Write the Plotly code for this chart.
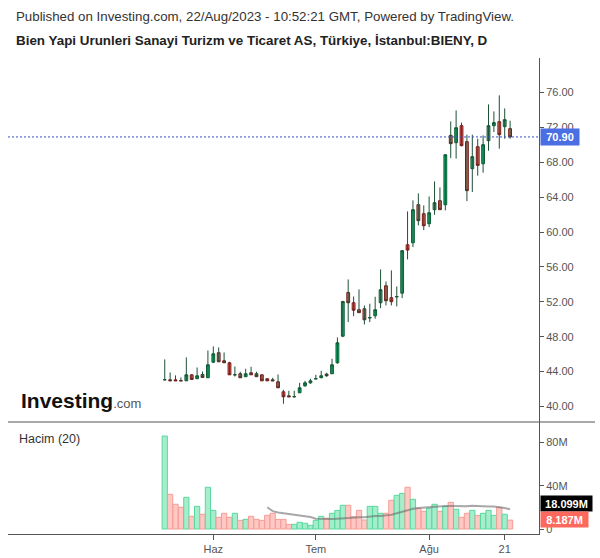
import plotly.graph_objects as go
import pandas as pd

# ---------------- data ----------------
dates = ["2023-05-18", "2023-05-22", "2023-05-23", "2023-05-24", "2023-05-25", "2023-05-26",
         "2023-05-29", "2023-05-30", "2023-05-31",
         "2023-06-01", "2023-06-02", "2023-06-05", "2023-06-06", "2023-06-07", "2023-06-08",
         "2023-06-09", "2023-06-12", "2023-06-13", "2023-06-14", "2023-06-15", "2023-06-16",
         "2023-06-19", "2023-06-20", "2023-06-21", "2023-06-22", "2023-06-23", "2023-06-26",
         "2023-06-27",
         "2023-07-03", "2023-07-04", "2023-07-05", "2023-07-06", "2023-07-07", "2023-07-10",
         "2023-07-11", "2023-07-12", "2023-07-13", "2023-07-14", "2023-07-17", "2023-07-18",
         "2023-07-19", "2023-07-20", "2023-07-21", "2023-07-24", "2023-07-25", "2023-07-26",
         "2023-07-27", "2023-07-28", "2023-07-31",
         "2023-08-01", "2023-08-02", "2023-08-03", "2023-08-04", "2023-08-07", "2023-08-08",
         "2023-08-09", "2023-08-10", "2023-08-11", "2023-08-14", "2023-08-15", "2023-08-16",
         "2023-08-17", "2023-08-18", "2023-08-21", "2023-08-22"]

opens = [43.05, 43.06, 43.05, 42.96, 42.94, 43.63, 43.18, 43.67, 43.29, 45.08,
         46.16, 45.24, 45.01, 43.62, 43.75, 43.41, 43.86, 43.75, 43.63, 43.18,
         43.06, 42.83, 41.68, 41.22, 41.10, 41.57, 42.37, 42.71, 43.16, 43.29,
         43.71, 43.75, 45.01, 48.06, 53.07, 51.89, 51.09, 51.20, 50.15, 50.40,
         51.89, 53.84, 52.47, 52.56, 52.99, 58.54, 58.77, 63.13, 62.10, 60.95,
         62.56, 63.59, 63.13, 71.08, 70.24, 72.19, 70.36, 67.26, 69.78, 67.83,
         70.47, 72.19, 72.65, 72.08, 71.85]
highs = [45.40, 43.90, 43.56, 43.33, 45.62, 43.65, 44.47, 44.01, 46.42, 46.88,
         46.77, 46.19, 45.12, 44.59, 43.98, 44.32, 44.55, 43.98, 43.63, 43.18,
         43.29, 43.67, 41.91, 41.80, 41.80, 42.71, 42.94, 43.18, 43.63, 44.09,
         43.86, 45.47, 47.91, 52.10, 54.56, 52.61, 53.42, 51.58, 51.78, 52.58,
         55.71, 54.33, 55.60, 53.76, 57.90, 62.36, 63.62, 64.43, 63.05, 64.08,
         65.80, 65.11, 68.90, 72.68, 73.94, 72.54, 71.16, 71.16, 70.70, 71.08,
         74.63, 73.83, 75.67, 74.17, 72.76]
lows = [43.00, 42.92, 42.95, 42.92, 42.94, 43.10, 43.18, 43.33, 43.29, 44.97,
        45.12, 45.01, 43.63, 43.44, 43.29, 43.41, 43.63, 43.41, 42.94, 42.94,
        42.94, 42.14, 40.31, 41.11, 41.00, 41.57, 42.25, 42.60, 43.16, 43.29,
        43.41, 43.75, 44.90, 47.95, 49.67, 50.36, 50.75, 49.40, 49.67, 50.06,
        51.27, 51.58, 51.58, 51.47, 52.42, 56.86, 58.27, 60.76, 60.22, 60.56,
        61.98, 62.56, 62.48, 68.47, 68.41, 69.82, 63.54, 64.58, 66.46, 66.80,
        69.32, 71.46, 69.55, 70.70, 70.70]
closes = [43.07, 42.95, 42.95, 42.94, 43.63, 43.10, 43.52, 43.33, 44.78, 46.04,
          45.12, 45.01, 43.63, 43.64, 43.29, 43.75, 43.63, 43.41, 42.94, 42.94,
          42.94, 42.14, 41.11, 41.11, 41.14, 42.14, 42.71, 42.94, 43.18, 43.52,
          43.52, 44.78, 47.30, 52.04, 51.89, 51.04, 50.75, 49.94, 50.19, 51.09,
          53.38, 52.12, 52.01, 52.60, 57.86, 57.93, 62.56, 61.30, 60.72, 62.21,
          63.36, 62.56, 68.86, 70.13, 71.96, 69.90, 64.74, 68.64, 67.64, 70.01,
          72.19, 72.54, 71.16, 72.88, 70.90]
volumes_m = [85.8, 32.0, 22.8, 20.0, 29.2, 11.7, 20.9, 13.6, 38.5, 17.2,
             10.8, 14.5, 10.8, 14.5, 8.0, 8.9, 11.7, 8.9, 8.0, 12.6,
             14.5, 8.9, 8.9, 4.3, 4.3, 6.2, 5.3, 3.4, 8.0, 11.7,
             9.9, 14.5, 17.2, 21.9, 21.9, 11.3, 17.2, 8.3, 20.9, 20.9,
             14.5, 14.5, 26.5, 31.1, 32.9, 38.5, 27.4, 19.1, 16.3, 19.1,
             22.8, 16.3, 20.9, 24.6, 18.2, 10.8, 14.5, 17.2, 12.6, 14.5,
             17.2, 12.6, 20.0, 13.6, 8.187]

price_ticks = [40, 44, 48, 52, 56, 60, 64, 68, 72, 76]
vol_ticks = [0, 40, 80]
vol_tick_labels = ["0", "40M", "80M"]
x_tick_dates = ["2023-06-01", "2023-07-03", "2023-08-01", "2023-08-21"]
x_tick_labels = ["Haz", "Tem", "Ağu", "21"]
ma_period = 20
last_close_label = "70.90"
ma_label = "18.099M"
last_vol_label = "8.187M"
header1 = "Published on Investing.com, 22/Aug/2023 - 10:52:21 GMT, Powered by TradingView."
header2 = "Bien Yapi Urunleri Sanayi Turizm ve Ticaret AS, Türkiye, İstanbul:BIENY, D"

# ---------------- geometry (pixels) ----------------
W, H = 600, 558
PL, PR, PT, PB = 8, 539, 58, 534
SPLIT_PX = 422
BAR0_PX, BAR_STEP_PX = 164.74, 5.396


def px_x(px):
    return (px - PL) / (PR - PL)


def px_y(py):
    return (PB - py) / (PB - PT)


split = px_y(SPLIT_PX)

FONT = "Liberation Sans, Arial, sans-serif"
GREEN_FILL, GREEN_LINE = "#0cc477", "#105c37"
RED_FILL, RED_LINE = "#fe695d", "#6d1c1c"
WICK = "#1d5136"
VG_FILL, VG_LINE = "#a6edcb", "#58d89f"
VR_FILL, VR_LINE = "#ffc8c4", "#f59c94"

up = [c >= o for o, c in zip(opens, closes)]
body_hi = [max(o, c) for o, c in zip(opens, closes)]
body_lo = [min(o, c) for o, c in zip(opens, closes)]
vol_ma = pd.Series(volumes_m).rolling(ma_period).mean()

wick_x, wick_y = [], []
for d, lo, hi in zip(dates, lows, highs):
    wick_x += [d, d, None]
    wick_y += [lo, hi, None]

fig = go.Figure()

fig.add_trace(go.Scatter(x=wick_x, y=wick_y, mode="lines",
                         line=dict(color=WICK, width=1), xaxis="x", yaxis="y",
                         hoverinfo="skip", showlegend=False))
fig.add_trace(go.Candlestick(x=dates, open=opens, close=closes, high=body_hi, low=body_lo,
                             increasing=dict(fillcolor=GREEN_FILL, line=dict(color=GREEN_LINE, width=1)),
                             decreasing=dict(fillcolor=RED_FILL, line=dict(color=RED_LINE, width=1)),
                             whiskerwidth=0, xaxis="x", yaxis="y", showlegend=False))

fig.add_trace(go.Bar(x=dates, y=volumes_m, xaxis="x2", yaxis="y2",
                     marker=dict(color=[VG_FILL if u else VR_FILL for u in up],
                                 line=dict(color=[VG_LINE if u else VR_LINE for u in up], width=1)),
                     showlegend=False))
fig.add_trace(go.Scatter(x=dates, y=vol_ma, mode="lines", xaxis="x2", yaxis="y2",
                         line=dict(color="rgba(110,110,110,0.6)", width=2),
                         showlegend=False, hoverinfo="skip"))

x_range = [(PL - BAR0_PX) / BAR_STEP_PX, (PR - BAR0_PX) / BAR_STEP_PX]

axis_col = "#555555"
fig.update_layout(
    width=W, height=H,
    margin=dict(l=PL, r=W - PR, t=PT, b=H - PB, pad=0, autoexpand=False),
    paper_bgcolor="white", plot_bgcolor="white",
    font=dict(family=FONT, color="#555555", size=11),
    boxgap=0.26, bargap=0.03,
    showlegend=False,
    xaxis=dict(type="category", categoryorder="array", categoryarray=dates,
               domain=[0, 1], anchor="y", range=x_range, showticklabels=False,
               showgrid=False, zeroline=False, showline=False, ticks="", automargin=False,
               rangeslider=dict(visible=False), fixedrange=True),
    xaxis2=dict(type="category", categoryorder="array", categoryarray=dates,
                domain=[0, 1], anchor="y2", range=x_range, matches="x", automargin=False,
                tickmode="array", tickvals=x_tick_dates, ticktext=x_tick_labels,
                ticks="outside", ticklen=5, tickcolor=axis_col, tickwidth=1,
                tickfont=dict(size=11, color="#555555"),
                showgrid=False, zeroline=False, showline=True, linecolor=axis_col, linewidth=1),
    yaxis=dict(domain=[split, 1], anchor="x", side="right", range=[38.22, 79.95],
               tickmode="array", tickvals=price_ticks, tickformat=".2f", automargin=False,
               ticks="outside", ticklen=4, tickcolor=axis_col,
               tickfont=dict(size=11, color="#555555"),
               showgrid=False, zeroline=False, showline=True, linecolor=axis_col, linewidth=1),
    yaxis2=dict(domain=[0, split], anchor="x2", side="right", range=[-4.61, 98.73],
                tickmode="array", tickvals=vol_ticks, ticktext=vol_tick_labels, automargin=False,
                ticks="outside", ticklen=4, tickcolor=axis_col,
                tickfont=dict(size=11, color="#555555"),
                showgrid=False, zeroline=False, showline=True, linecolor=axis_col, linewidth=1),
)

# separator between panes and last-price line
fig.add_shape(type="line", xref="paper", yref="paper", x0=0, x1=px_x(595), y0=split, y1=split,
              line=dict(color="#555555", width=1))
fig.add_shape(type="line", xref="paper", yref="y", x0=0, x1=1, y0=closes[-1], y1=closes[-1],
              line=dict(color="#3550c8", width=1, dash="2px,2px"))

# header
fig.add_annotation(xref="paper", yref="paper", x=px_x(14), y=px_y(16), xanchor="left",
                   yanchor="middle", showarrow=False, text=header1,
                   font=dict(family=FONT, size=13.3, color="#333333"))
fig.add_annotation(xref="paper", yref="paper", x=px_x(14), y=px_y(41), xanchor="left",
                   yanchor="middle", showarrow=False, text="<b>" + header2 + "</b>",
                   font=dict(family=FONT, size=13.4, color="#222222"))
fig.add_annotation(xref="paper", yref="paper", x=px_x(17), y=px_y(439), xanchor="left",
                   yanchor="middle", showarrow=False, text="Hacim (20)",
                   font=dict(family=FONT, size=12.5, color="#333333"))
fig.add_annotation(xref="paper", yref="paper", x=px_x(19), y=px_y(400), xanchor="left",
                   yanchor="middle", showarrow=False,
                   text="<b>Investing</b><span style='font-size:13px;color:#555555'>.com</span>",
                   font=dict(family=FONT, size=21, color="#111111"))

# right-side value labels
fig.add_annotation(xref="paper", yref="y", x=px_x(539.5), y=closes[-1], xanchor="left",
                   yanchor="middle", showarrow=False, text="<b>" + last_close_label + "</b>",
                   bgcolor="#4a6fe3", width=36, height=14, borderpad=1,
                   font=dict(family=FONT, size=11, color="white"))
fig.add_annotation(xref="paper", yref="paper", x=px_x(539.5), y=px_y(503.5), xanchor="left",
                   yanchor="middle", showarrow=False, text="<b>" + ma_label + "</b>",
                   bgcolor="#000000", width=49, height=13, borderpad=1,
                   font=dict(family=FONT, size=11, color="white"))
fig.add_annotation(xref="paper", yref="paper", x=px_x(539.5), y=px_y(519.5), xanchor="left",
                   yanchor="middle", showarrow=False, text="<b>" + last_vol_label + "</b>",
                   bgcolor="#fe695d", width=45, height=13, borderpad=1,
                   font=dict(family=FONT, size=11, color="white"))

fig.write_html("out.html", config={"displayModeBar": False},
               post_script="document.body.style.margin='0px';"
                           "document.documentElement.style.overflow='hidden';")
